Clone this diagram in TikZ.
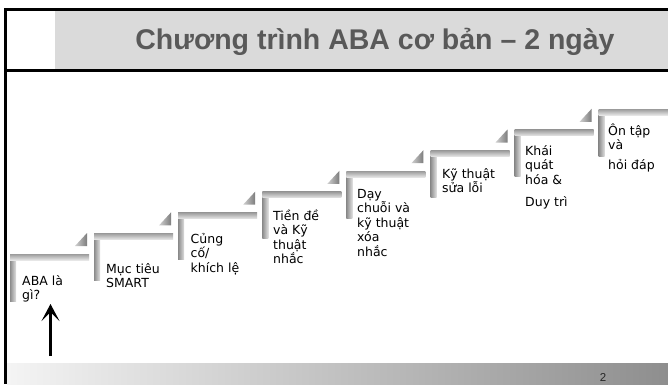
\documentclass[tikz,border=0pt]{standalone}
\usepackage{fontspec}
\usetikzlibrary{arrows.meta}
\newfontfamily\stepfont{DejaVu Sans}
\newfontfamily\headfont{Liberation Sans}

\definecolor{headgray}{HTML}{DADADA}
\definecolor{titlegray}{HTML}{595959}
\definecolor{barA}{HTML}{9C9C9C}
\definecolor{barB}{HTML}{E6E6E6}
\definecolor{postA}{HTML}{8C8C8C}
\definecolor{postB}{HTML}{E0E0E0}
\definecolor{triA}{HTML}{D0D0D0}
\definecolor{triB}{HTML}{7C7C7C}
\definecolor{footL}{HTML}{F4F4F4}
\definecolor{footM}{HTML}{DCDCDC}
\definecolor{footR}{HTML}{8E8E8E}

\tikzset{
  % bevelled stair tread: horizontal bar plus short left post
  stairbar/.pic={
    \shade[left color=postA, right color=postB] (0,2) rectangle (6,47);
    \shade[top color=barA, bottom color=barB] (0,0) rectangle (79,6);
  },
  % small shadow wedge above the right end of a tread
  stairtri/.pic={
    \shade[left color=triA, right color=triB] (65,-8) -- (77,-8) -- (77,-21) -- cycle;
  },
  steptext/.style={anchor=north west, inner sep=0pt, align=left, text=black,
    font=\stepfont\fontsize{12.5}{14.5}\selectfont},
  frameline/.style={line width=3pt, black},
}
\newcommand{\fl}{\rule{0pt}{12.5pt}}

\begin{document}
\begin{tikzpicture}[x=1pt, y=-1pt]
  \useasboundingbox (0,0) rectangle (668,384);
  \fill[white] (0,0) rectangle (668,384);

  % header band
  \fill[headgray] (55,11) rectangle (668,69);
  \node[anchor=base, inner sep=0pt, text=titlegray,
        font=\headfont\bfseries\fontsize{28.5}{30}\selectfont] (title) at (375,49)
        {Chương trình ABA cơ bản – 2 ngày};

  % footer band
  \shade[left color=footL, middle color=footM, right color=footR] (7,363) rectangle (668,384);
  \node[anchor=center, inner sep=0pt, font=\headfont\fontsize{11.5}{13}\selectfont, text=black!85]
        (pageno) at (603,377) {2};

  % frame lines
  \draw[frameline] (4,9.5) -- (668,9.5);
  \draw[frameline] (4,70.5) -- (668,70.5);
  \draw[frameline] (5.5,8) -- (5.5,384);

  % staircase treads
  \foreach \i in {0,...,7} {
    \pgfmathsetmacro{\sx}{10+84.1*\i}
    \pgfmathsetmacro{\sy}{254-20.7*\i}
    \pic at (\sx,\sy) {stairbar};
  }
  \foreach \i in {0,...,6} {
    \pgfmathsetmacro{\sx}{10+84.1*\i}
    \pgfmathsetmacro{\sy}{254-20.7*\i}
    \pic at (\sx,\sy) {stairtri};
  }

  % step labels
  \node[steptext] (s1) at (22,272.5) {\fl ABA là\\gì?};
  \node[steptext] (s2) at (106,260.5) {\fl Mục tiêu\\SMART};
  \node[steptext] (s3) at (190.5,230.5) {\fl Củng\\cố/\\khích lệ};
  \node[steptext] (s4) at (273,207.5) {\fl Tiền đề\\và Kỹ\\thuật\\nhắc};
  \node[steptext] (s5) at (357,185.5) {\fl Dạy\\chuỗi và\\kỹ thuật\\xóa\\nhắc};
  \node[steptext] (s6) at (442,165.5) {\fl Kỹ thuật\\sửa lỗi};
  \node[steptext] (s7) at (525,142.5) {\fl Khái\\quát\\hóa \&\\[8pt]Duy trì};
  \node[steptext] (s8) at (608,122.5) {\fl Ôn tập\\và\\[5pt]hỏi đáp};

  % start marker
  \coordinate (arrowtail) at (50.5,356);
  \coordinate (arrowtip) at (50.5,304);
  \draw[line width=3.6pt, -{Stealth[length=17pt, width=18pt, inset=9pt, line width=1pt]}]
    (arrowtail) -- (arrowtip);
\end{tikzpicture}
\end{document}
